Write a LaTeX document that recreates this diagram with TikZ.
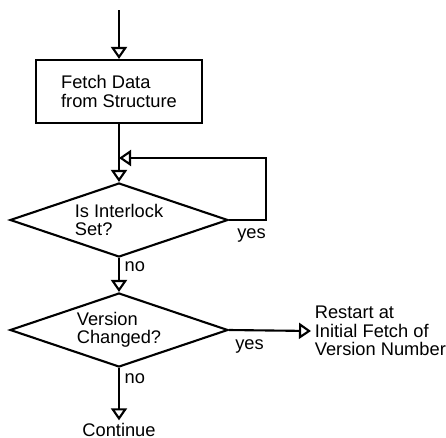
\documentclass[tikz,border=0pt]{standalone}
\usepackage{fontspec}
\setsansfont{Liberation Sans}
\usetikzlibrary{arrows.meta, positioning, shapes.geometric, calc}
\tikzset{
  every picture/.style={font=\sffamily, line width=1.5pt},
  box/.style={draw, align=left, minimum width=41.5mm, minimum height=15.75mm, inner sep=0pt},
  decision/.style={draw, diamond, align=left, minimum width=54.5mm, minimum height=18.5mm, inner sep=0pt, aspect=3},
  arrow/.style={-{Triangle[open, length=3mm, width=4mm]}},
  note/.style={align=left},
}

\begin{document}
\begin{tikzpicture}[x=0.25mm, y=-0.25mm, every node/.append style={font=\fontsize{13}{13}\selectfont\sffamily}]
  \useasboundingbox (0,0) rectangle (446,438);
  \coordinate (entry) at (119,10);
  \node[box] (fetch) at (119,91.5) {Fetch Data\\from Structure};
  \coordinate (merge) at (119,158);
  \node[decision] (lock) at (119,220) {Is Interlock\\Set?};
  \node[decision] (vers) at (119,330) {Version\\Changed?};
  \node[note, anchor=west, inner sep=2pt] (restart) at (311,331) {Restart at\\Initial Fetch of\\Version Number};
  \node[anchor=base, inner sep=1pt] (cont) at (119,436) {Continue};
  \draw[arrow] (entry) -- (fetch.north);
  \draw (fetch.south) -- (merge);
  \draw[arrow] (merge) -- (lock.north);
  % retry loop while the interlock is held
  \draw[arrow] (lock.east) -- node[below, xshift=1mm, yshift=-0.8mm] {yes} ++(37,0) |- (merge);
  \draw[arrow] (lock.south) -- node[right, pos=0.25] {no} (vers.north);
  \draw[arrow] (vers.east) -- node[below, pos=0.25, yshift=-1mm] {yes} (restart.west);
  \draw[arrow] (vers.south) -- node[right, pos=0.2] {no} (cont.north);
\end{tikzpicture}
\end{document}
